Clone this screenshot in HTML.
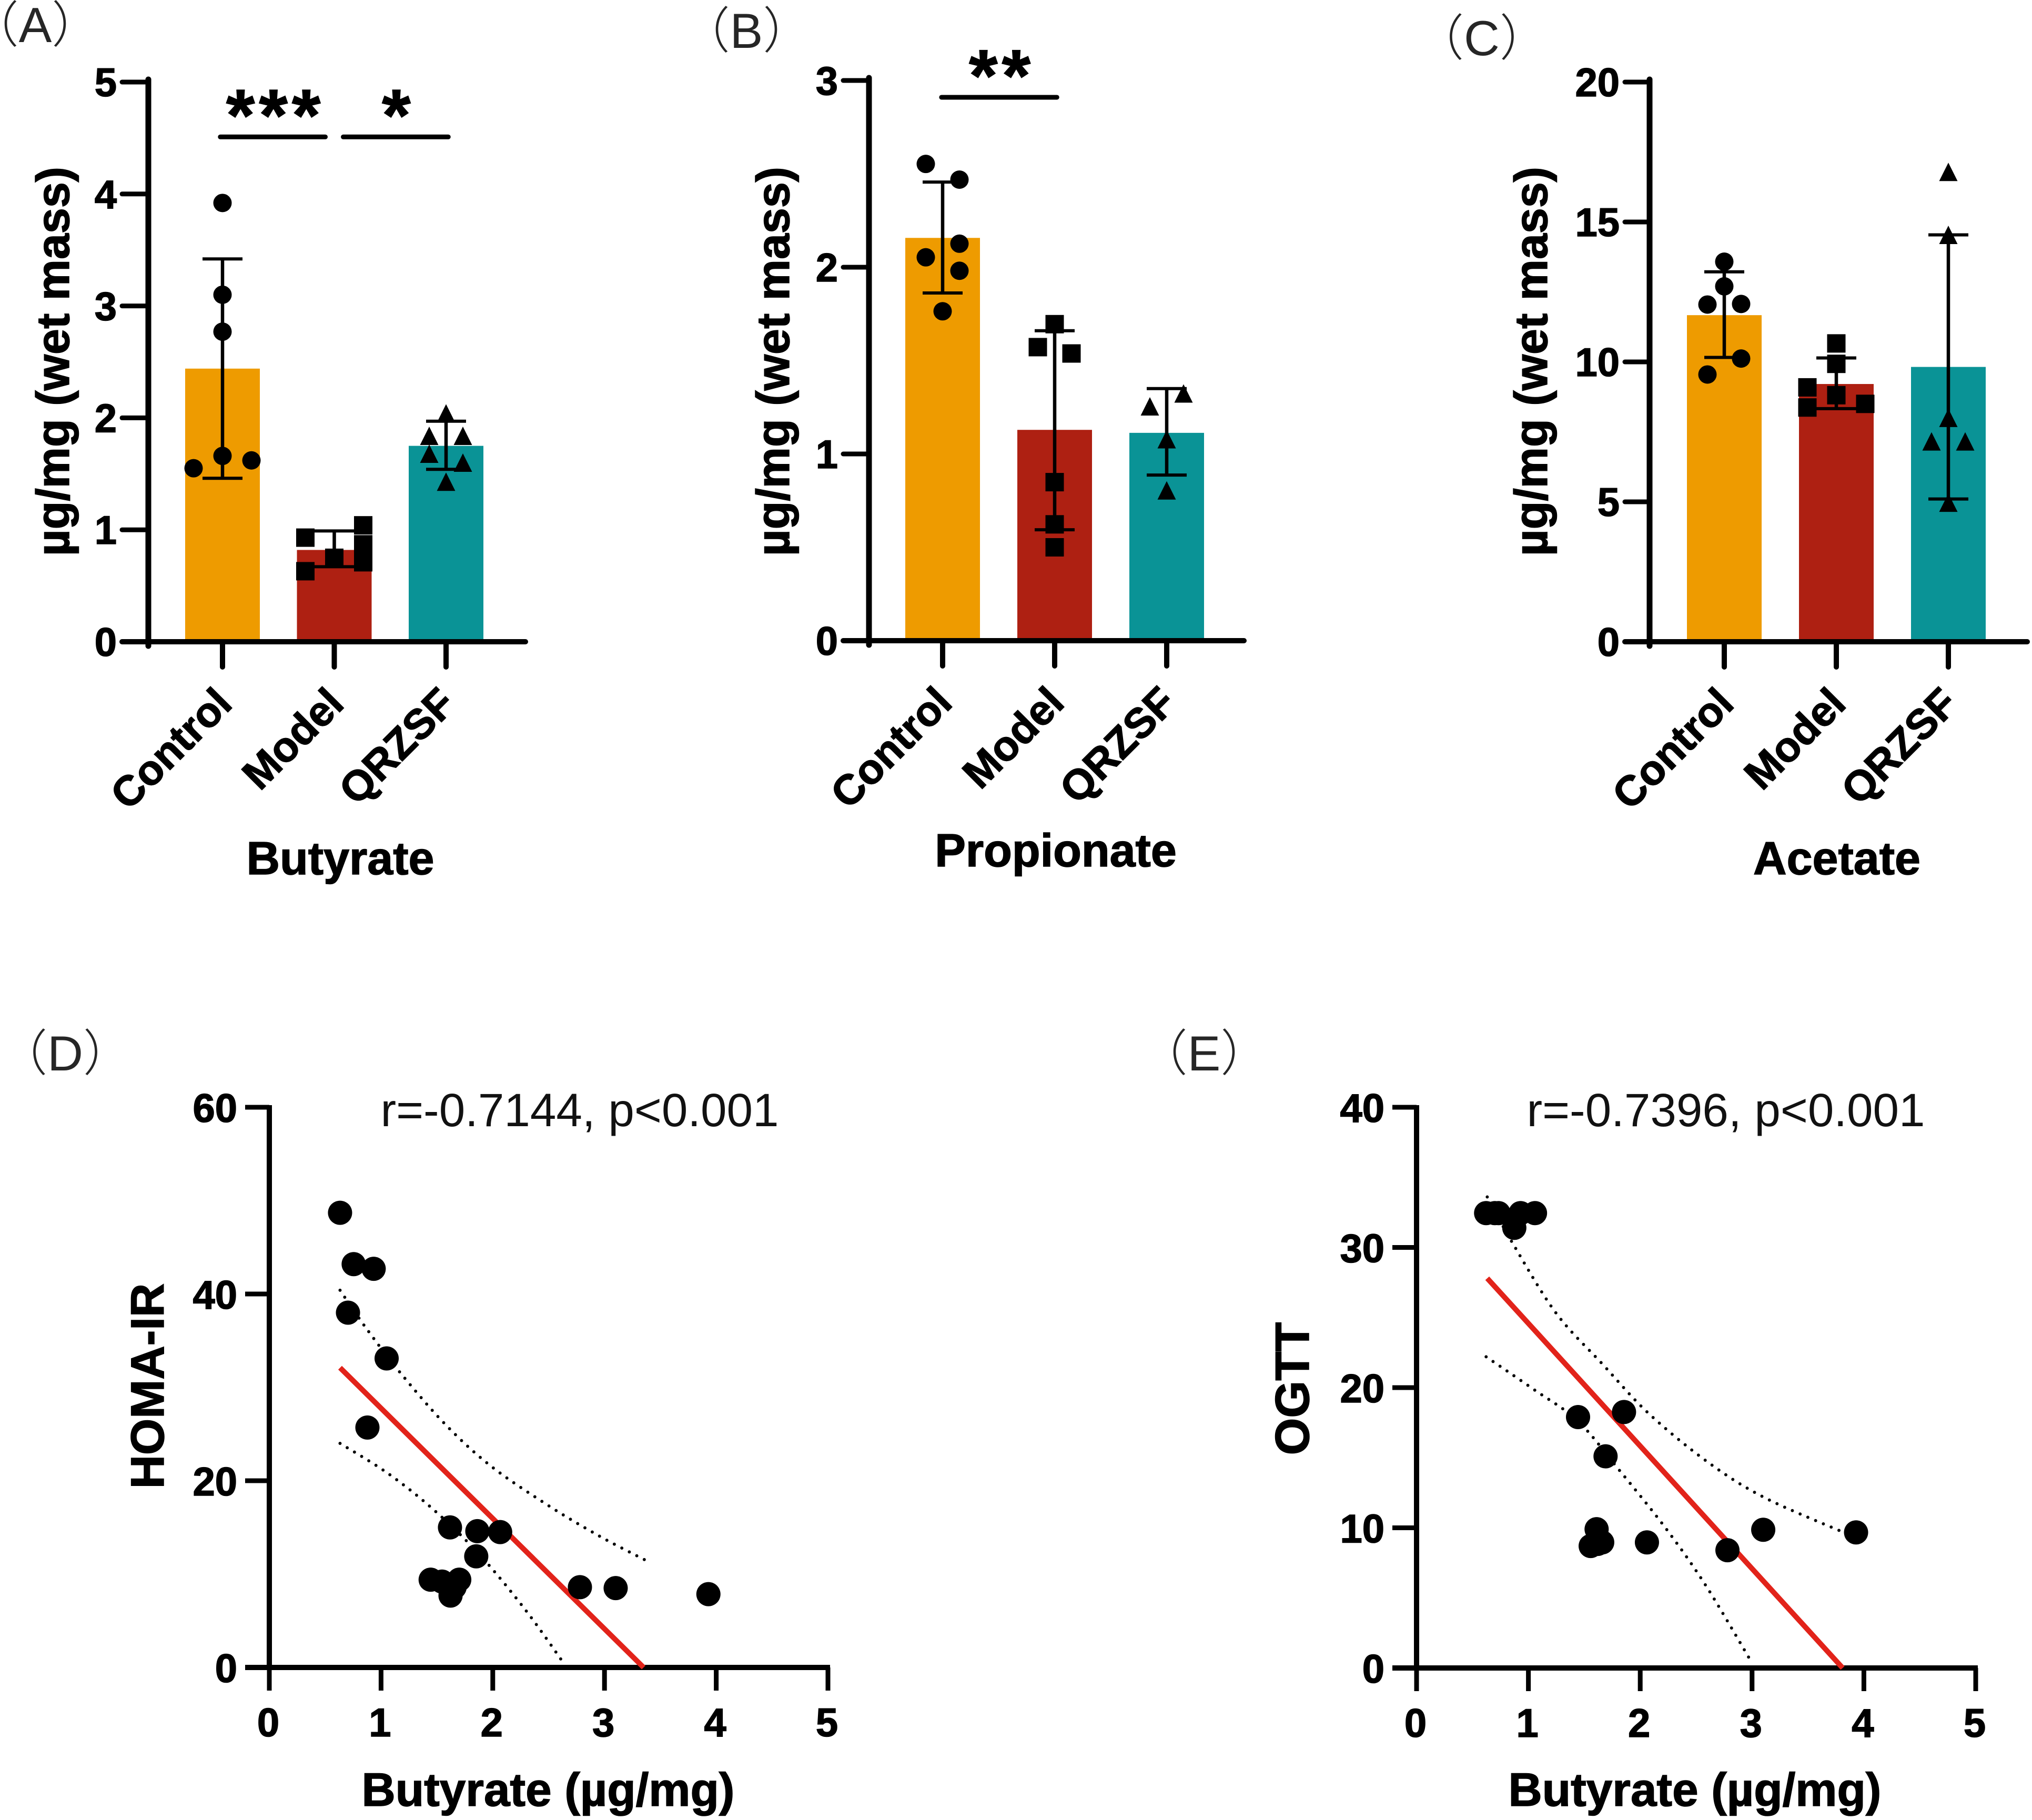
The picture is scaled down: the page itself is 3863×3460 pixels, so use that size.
<!DOCTYPE html>
<html lang="en">
<head>
<meta charset="utf-8">
<title>Short-chain fatty acids and correlations</title>
<style>
html,body{margin:0;padding:0;background:#fff}
svg{display:block}
text{font-family:"Liberation Sans",Arial,sans-serif}
.b{font-weight:700;fill:#000;stroke:#000;stroke-width:1.5px}
.lab{font-family:"Liberation Sans","Noto Sans CJK SC",sans-serif;fill:#262626;font-size:94px;font-weight:300}
</style>
</head>
<body>
<svg id="fig" xmlns="http://www.w3.org/2000/svg" width="3863" height="3460" viewBox="0 0 3863 3460">
<rect width="3863" height="3460" fill="#fff"/>
<text class="lab" x="67" y="80" text-anchor="middle">（A）</text>
<text class="lab" x="1419" y="91" text-anchor="middle">（B）</text>
<text class="lab" x="2817" y="105" text-anchor="middle">（C）</text>
<text class="lab" x="124" y="2035" text-anchor="middle">（D）</text>
<text class="lab" x="2289" y="2035" text-anchor="middle">（E）</text>

<text class="b" font-size="88" transform="translate(131 687) rotate(-90)" text-anchor="middle">µg/mg (wet mass)</text>
<text class="b" font-size="88" transform="translate(1500 687) rotate(-90)" text-anchor="middle">µg/mg (wet mass)</text>
<text class="b" font-size="88" transform="translate(2941 687) rotate(-90)" text-anchor="middle">µg/mg (wet mass)</text>
<text class="b" font-size="88" x="647" y="1662" text-anchor="middle">Butyrate</text>
<text class="b" font-size="88" x="2007" y="1647" text-anchor="middle">Propionate</text>
<text class="b" font-size="88" x="3492" y="1662" text-anchor="middle">Acetate</text>

<text class="b" font-size="89" transform="translate(311 2635) rotate(-90)" text-anchor="middle">HOMA-IR</text>
<text class="b" font-size="91" transform="translate(2488 2640) rotate(-90)" text-anchor="middle">OGTT</text>
<text class="b" font-size="89" x="1042" y="3433" text-anchor="middle">Butyrate (µg/mg)</text>
<text class="b" font-size="89" x="3222" y="3433" text-anchor="middle">Butyrate (µg/mg)</text>
<text font-size="89" x="1102" y="2141" text-anchor="middle" fill="#111">r=-0.7144, p&lt;0.001</text>
<text font-size="89" x="3281" y="2141" text-anchor="middle" fill="#111">r=-0.7396, p&lt;0.001</text>
</svg>

<script>
// ---- shared categories ----
const groupLabels = ['Control', 'Model', 'QRZSF'];
const barColors = ['#EE9B00', '#AE2012', '#0A9396'];

// ---- panel A: butyrate ----
const aTicks = [0, 1, 2, 3, 4, 5];
const aMeans = [2.44, 0.82, 1.75];
const aErrLow = [1.46, 0.67, 1.54];
const aErrHigh = [3.42, 0.99, 1.97];
const aControl = [3.92, 3.10, 2.77, 1.66, 1.55, 1.62];
const aModel = [0.93, 1.04, 0.87, 0.75, 0.63, 0.71];
const aQrzsf = [2.04, 1.84, 1.84, 1.68, 1.60, 1.43];
const aSigLevel = [4.51, 4.51];
const aSigFrom = [-0.02, 1.08];
const aSigTo = [0.92, 2.02];
const aSigStars = ['***', '*'];

// ---- panel B: propionate ----
const bTicks = [0, 1, 2, 3];
const bMeans = [2.157, 1.129, 1.113];
const bErrLow = [1.862, 0.594, 0.887];
const bErrHigh = [2.456, 1.66, 1.35];
const bControl = [2.553, 2.469, 2.126, 2.053, 1.981, 1.764];
const bModel = [1.695, 1.572, 1.538, 0.849, 0.623, 0.5];
const bQrzsf = [1.324, 1.255, 1.079, 0.805];
const bSigLevel = [2.91];
const bSigFrom = [-0.01];
const bSigTo = [1.02];
const bSigStars = ['**'];

// ---- panel C: acetate ----
const cTicks = [0, 5, 10, 15, 20];
const cMeans = [11.67, 9.21, 9.82];
const cErrLow = [10.16, 8.33, 5.10];
const cErrHigh = [13.22, 10.14, 14.54];
const cControl = [13.58, 12.70, 12.05, 12.07, 10.12, 9.55];
const cModel = [10.66, 9.93, 9.09, 8.81, 8.50, 8.37];
const cQrzsf = [16.79, 14.54, 8.0, 7.16, 7.16, 4.97];

// ---- panel D: HOMA-IR vs butyrate ----
const dXTicks = [0, 1, 2, 3, 4, 5];
const dYTicks = [0, 20, 40, 60];
const dPointX = [0.633, 0.755, 0.934, 0.704, 1.05, 0.878, 1.617, 1.862, 2.066, 1.852, 1.444, 1.546, 1.70, 1.658, 1.622, 2.78, 3.10, 3.93];
const dPointY = [48.7, 43.2, 42.7, 38.0, 33.1, 25.7, 15.0, 14.6, 14.5, 11.9, 9.4, 9.2, 9.4, 8.6, 7.7, 8.6, 8.5, 7.85];
const dFitX = [0.633, 3.35];
const dFitY = [32.1, 0];
const dUpperX = [0.633, 0.857, 1.163, 1.57, 1.98, 2.49, 2.95, 3.357];
const dUpperY = [40.4, 36.5, 31.7, 26.1, 21.6, 17.4, 14.1, 11.55];
const dLowerX = [0.633, 1.06, 1.47, 1.88, 2.29, 2.65];
const dLowerY = [24, 20.8, 16.9, 12.1, 6.2, 0.2];

// ---- panel E: OGTT vs butyrate ----
const eXTicks = [0, 1, 2, 3, 4, 5];
const eYTicks = [0, 10, 20, 30, 40];
const ePointX = [0.622, 0.70, 0.733, 0.93, 1.059, 0.874, 1.444, 1.855, 1.69, 1.61, 1.66, 1.557, 1.62, 2.06, 2.78, 3.10, 3.93];
const ePointY = [32.45, 32.45, 32.45, 32.45, 32.45, 31.4, 17.9, 18.26, 15.1, 9.9, 8.96, 8.7, 8.85, 8.96, 8.4, 9.86, 9.67];
const eFitX = [0.632, 3.81];
const eFitY = [27.8, 0];
const eUpperX = [0.632, 0.874, 1.249, 1.66, 2.07, 2.585, 3.10, 3.82];
const eUpperY = [33.6, 30.1, 25.3, 21.7, 18.2, 14.8, 12.2, 9.67];
const eLowerX = [0.622, 1.043, 1.444, 1.814, 2.225, 2.585, 2.985];
const eLowerY = [22.2, 19.9, 17.6, 14.1, 10, 5.9, 0.56];

const NS = 'http://www.w3.org/2000/svg';
const fig = document.getElementById('fig');

function make(tag, attrs, parent, txt) {
  const el = document.createElementNS(NS, tag);
  for (const k in attrs) el.setAttribute(k, attrs[k]);
  if (txt !== undefined) el.textContent = txt;
  (parent || fig).appendChild(el);
  return el;
}

function drawMarker(shape, cx, cy, size, parent) {
  const h = size / 2;
  if (shape === 'circle') return make('circle', { cx: cx, cy: cy, r: h, fill: '#000' }, parent);
  if (shape === 'square') return make('rect', { x: cx - h, y: cy - h, width: size, height: size, fill: '#000' }, parent);
  return make('polygon', { points: (cx - h) + ',' + (cy + h) + ' ' + (cx + h) + ',' + (cy + h) + ' ' + cx + ',' + (cy - h), fill: '#000' }, parent);
}

function drawBarPanel(p) {
  const g = make('g', {});
  
  
  const top = p.ticks[p.ticks.length - 1];
  const yScale = function (v) { return p.yBase - (v / top) * (p.yBase - p.yTop); };
  const xScale = function (i) { return p.xFirst + i * p.xStep; };
  const shapes = ['circle', 'square', 'triangle'];

  p.means.forEach(function (m, i) {
    const bar = make('rect', { x: xScale(i) - 71, y: yScale(m), width: 142, height: p.yBase - yScale(m), fill: barColors[i] }, g);
    
    
  });

  p.means.forEach(function (m, i) {
    const x = xScale(i);
    const stem = make('line', { x1: x, x2: x, y1: yScale(p.low[i]), y2: yScale(p.high[i]), stroke: '#000', 'stroke-width': 6.5 }, g);
    
    
    [p.low[i], p.high[i]].forEach(function (v) {
      const cap = make('line', { x1: x - 38, x2: x + 38, y1: yScale(v), y2: yScale(v), stroke: '#000', 'stroke-width': 6 }, g);
      
      
    });
    p.points[i].forEach(function (v, j) {
      const mk = drawMarker(shapes[i], x + p.jitter[i][j], yScale(v), 35, g);
      
      
    });
  });

  // axes
  const yAxis = make('line', { x1: p.xAxis, x2: p.xAxis, y1: p.yTop - 5, y2: p.yBase + 8, stroke: '#000', 'stroke-width': 11, 'stroke-linecap': 'round' }, g);
  
  
  const xAxis = make('line', { x1: p.tickStart, x2: p.xEnd, y1: p.yBase, y2: p.yBase, stroke: '#000', 'stroke-width': 10, 'stroke-linecap': 'round' }, g);
  
  

  p.ticks.forEach(function (t) {
    const tk = make('line', { x1: p.tickStart, x2: p.xAxis, y1: yScale(t), y2: yScale(t), stroke: '#000', 'stroke-width': 9, 'stroke-linecap': 'round' }, g);
    
    
    const lb = make('text', { x: p.tickStart - 10, y: yScale(t) + 27, 'text-anchor': 'end', 'font-size': 76, class: 'b' }, g, String(t));
    
    
  });

  groupLabels.forEach(function (name, i) {
    const x = xScale(i);
    const tk = make('line', { x1: x, x2: x, y1: p.yBase, y2: p.yBase + 48, stroke: '#000', 'stroke-width': 10, 'stroke-linecap': 'round' }, g);
    
    
    const lx = x + 22, ly = p.yBase + 122;
    const lb = make('text', { transform: 'translate(' + lx + ' ' + ly + ') rotate(-45)', 'text-anchor': 'end', 'font-size': 80, class: 'b' }, g, name);
    
    
  });

  if (p.sigLevel) {
    p.sigLevel.forEach(function (lvl, k) {
      const y = yScale(lvl);
      const x1 = p.xFirst + p.sigFrom[k] * p.xStep;
      const x2 = p.xFirst + p.sigTo[k] * p.xStep;
      const ln = make('line', { x1: x1, x2: x2, y1: y, y2: y, stroke: '#000', 'stroke-width': 9, 'stroke-linecap': 'round' }, g);
      
      
      const st = make('text', { x: (x1 + x2) / 2 + 5, y: y + 7, 'text-anchor': 'middle', 'font-size': 140, 'letter-spacing': 8, class: 'b' }, g, p.sigStars[k]);
      
      
    });
  }
}

function drawScatter(p) {
  const g = make('g', {});
  
  
  const xTop = p.xTicks[p.xTicks.length - 1];
  const yTop = p.yTicks[p.yTicks.length - 1];
  const xScale = function (v) { return p.x0 + (v / xTop) * (p.x1 - p.x0); };
  const yScale = function (v) { return p.y0 - (v / yTop) * (p.y0 - p.y1); };
  // smooth Catmull-Rom curve through data values, mapped through the axis functions
  const toPath = function (xs, ys) {
    const pts = xs.map(function (v, i) { return [xScale(v), yScale(ys[i])]; });
    let d = 'M' + pts[0][0] + ' ' + pts[0][1];
    for (let i = 0; i < pts.length - 1; i++) {
      const a = pts[Math.max(i - 1, 0)], b = pts[i], c = pts[i + 1], e = pts[Math.min(i + 2, pts.length - 1)];
      d += ' C' + (b[0] + (c[0] - a[0]) / 6) + ' ' + (b[1] + (c[1] - a[1]) / 6) + ' ' +
        (c[0] - (e[0] - b[0]) / 6) + ' ' + (c[1] - (e[1] - b[1]) / 6) + ' ' + c[0] + ' ' + c[1];
    }
    return d;
  };

  const up = make('path', { d: toPath(p.upperX, p.upperY), fill: 'none', stroke: '#000', 'stroke-width': 6, 'stroke-linecap': 'round', 'stroke-dasharray': '0 16' }, g);
  
  
  const lo = make('path', { d: toPath(p.lowerX, p.lowerY), fill: 'none', stroke: '#000', 'stroke-width': 6, 'stroke-linecap': 'round', 'stroke-dasharray': '0 16' }, g);
  
  

  const yAxis = make('line', { x1: p.x0, x2: p.x0, y1: p.y1 - 4, y2: p.y0 + 4, stroke: '#000', 'stroke-width': 10 }, g);
  
  
  const xAxis = make('line', { x1: p.tickStart, x2: p.x1 + 4, y1: p.y0, y2: p.y0, stroke: '#000', 'stroke-width': 10 }, g);
  
  

  p.yTicks.forEach(function (t) {
    const tk = make('line', { x1: p.tickStart, x2: p.x0, y1: yScale(t), y2: yScale(t), stroke: '#000', 'stroke-width': 9 }, g);
    
    
    const lb = make('text', { x: p.tickStart - 15, y: yScale(t) + 28, 'text-anchor': 'end', 'font-size': 76, class: 'b' }, g, String(t));
    
    
  });
  p.xTicks.forEach(function (t) {
    const tk = make('line', { x1: xScale(t), x2: xScale(t), y1: p.y0, y2: p.y0 + 44, stroke: '#000', 'stroke-width': 9 }, g);
    
    
    const lb = make('text', { x: xScale(t) - 2, y: p.y0 + 131, 'text-anchor': 'middle', 'font-size': 76, class: 'b' }, g, String(t));
    
    
  });

  const fit = make('path', { d: toPath(p.fitX, p.fitY), fill: 'none', stroke: '#E2231A', 'stroke-width': 10 }, g);
  
  

  p.pointX.forEach(function (v, i) {
    const pt = make('circle', { cx: xScale(v), cy: yScale(p.pointY[i]), r: 23, fill: '#000' }, g);
    
    
  });
}

drawBarPanel({
  name: 'panel-a-butyrate', ticks: aTicks, means: aMeans, low: aErrLow, high: aErrHigh,
  points: [aControl, aModel, aQrzsf],
  jitter: [[0, 0, 0, 0, -55, 55], [-55, 55, 55, 0, -55, 55], [0, -32, 32, -32, 32, 0]],
  sigLevel: aSigLevel, sigFrom: aSigFrom, sigTo: aSigTo, sigStars: aSigStars,
  xAxis: 282, tickStart: 232, xEnd: 999, yBase: 1220, yTop: 156, xFirst: 423, xStep: 212.5
});
drawBarPanel({
  name: 'panel-b-propionate', ticks: bTicks, means: bMeans, low: bErrLow, high: bErrHigh,
  points: [bControl, bModel, bQrzsf],
  jitter: [[-32, 32, 32, -32, 32, 0], [0, -32, 32, 0, 0, 0], [32, -32, 0, 0]],
  sigLevel: bSigLevel, sigFrom: bSigFrom, sigTo: bSigTo, sigStars: bSigStars,
  xAxis: 1652, tickStart: 1603, xEnd: 2365, yBase: 1218, yTop: 153, xFirst: 1792, xStep: 213
});
drawBarPanel({
  name: 'panel-c-acetate', ticks: cTicks, means: cMeans, low: cErrLow, high: cErrHigh,
  points: [cControl, cModel, cQrzsf],
  jitter: [[0, 0, -32, 32, 32, -32], [0, 0, -55, 0, 55, -55], [0, 0, 0, -32, 32, 0]],
  xAxis: 3136, tickStart: 3089, xEnd: 3854, yBase: 1220, yTop: 156, xFirst: 3278, xStep: 213
});
drawScatter({
  name: 'panel-d-homa-ir', xTicks: dXTicks, yTicks: dYTicks, pointX: dPointX, pointY: dPointY,
  fitX: dFitX, fitY: dFitY, upperX: dUpperX, upperY: dUpperY, lowerX: dLowerX, lowerY: dLowerY,
  x0: 512, x1: 1574, y0: 3170, y1: 2105, tickStart: 466
});
drawScatter({
  name: 'panel-e-ogtt', xTicks: eXTicks, yTicks: eYTicks, pointX: ePointX, pointY: ePointY,
  fitX: eFitX, fitY: eFitY, upperX: eUpperX, upperY: eUpperY, lowerX: eLowerX, lowerY: eLowerY,
  x0: 2693, x1: 3756, y0: 3171, y1: 2105, tickStart: 2647
});
</script>
</body>
</html>
